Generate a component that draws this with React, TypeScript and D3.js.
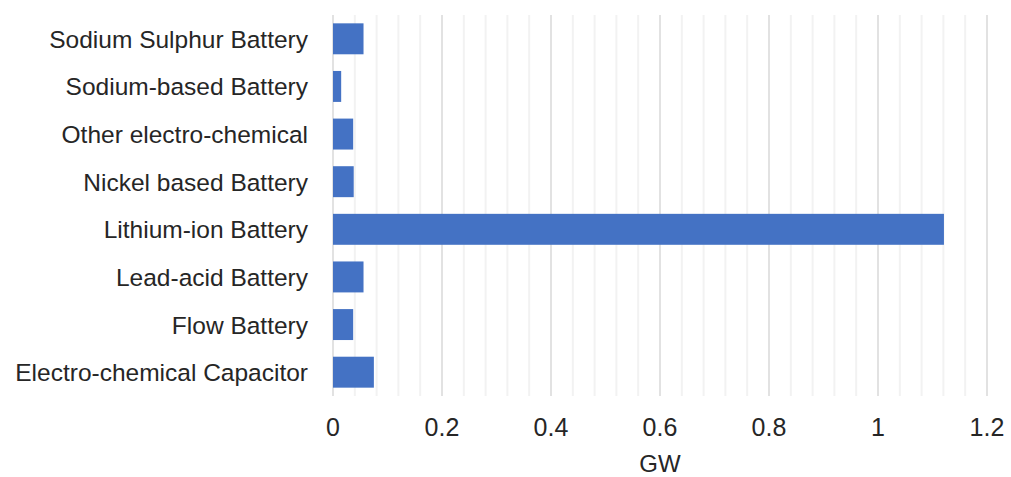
import React from "react";
import * as d3 from "d3";

const categories = [
  "Sodium Sulphur Battery",
  "Sodium-based Battery",
  "Other electro-chemical",
  "Nickel based Battery",
  "Lithium-ion Battery",
  "Lead-acid Battery",
  "Flow Battery",
  "Electro-chemical Capacitor",
];
const capacityGW = [0.056, 0.015, 0.037, 0.038, 1.121, 0.056, 0.037, 0.075];
const majorTicks = [0, 0.2, 0.4, 0.6, 0.8, 1, 1.2];
const minorTicks = [
  0.04, 0.08, 0.12, 0.16, 0.24, 0.28, 0.32, 0.36, 0.44, 0.48, 0.52, 0.56,
  0.64, 0.68, 0.72, 0.76, 0.84, 0.88, 0.92, 0.96, 1.04, 1.08, 1.12, 1.16,
];
const axisTitle = "GW";

const W = 1011;
const H = 477;
const plot = { left: 333, right: 987, top: 15, bottom: 396 };
const font = "'Liberation Sans', Arial, sans-serif";
const textColor = "#262626";

export default function App() {
  const x = d3.scaleLinear().domain([0, 1.2]).range([plot.left, plot.right]);
  const y = d3
    .scaleBand<string>()
    .domain(categories)
    .range([plot.top, plot.bottom])
    .paddingInner(0.35)
    .paddingOuter(0.175);

  return (
    <svg
      width={W}
      height={H}
      style={{ position: "absolute", left: 0, top: 0, background: "#fff" }}
      fontFamily={font}
    >
      {/* minor gridlines */}
      {minorTicks.map((t) => (
        <line
          key={"m" + t}
          x1={x(t)}
          x2={x(t)}
          y1={plot.top}
          y2={plot.bottom}
          stroke="#f2f2f2"
          strokeWidth={2}
        />
      ))}
      {/* major gridlines */}
      {majorTicks.map((t) => (
        <line
          key={"g" + t}
          x1={x(t)}
          x2={x(t)}
          y1={plot.top}
          y2={plot.bottom}
          stroke="#d9d9d9"
          strokeWidth={1.5}
        />
      ))}
      {/* bars */}
      {categories.map((c, i) => (
        <rect
          key={c}
          x={x(0)}
          y={y(c)}
          width={x(capacityGW[i]) - x(0)}
          height={y.bandwidth()}
          fill="#4472C4"
        />
      ))}
      {/* category labels */}
      {categories.map((c) => (
        <text
          key={"l" + c}
          x={308}
          y={(y(c) as number) + y.bandwidth() / 2 + 9}
          textAnchor="end"
          fontSize={24.5}
          fill={textColor}
        >
          {c}
        </text>
      ))}
      {/* x tick labels */}
      {majorTicks.map((t) => (
        <text
          key={"t" + t}
          x={x(t)}
          y={436}
          textAnchor="middle"
          fontSize={25}
          fill={textColor}
        >
          {d3.format("~g")(t)}
        </text>
      ))}
      <text
        x={(plot.left + plot.right) / 2}
        y={472}
        textAnchor="middle"
        fontSize={24}
        fill={textColor}
      >
        {axisTitle}
      </text>
    </svg>
  );
}
